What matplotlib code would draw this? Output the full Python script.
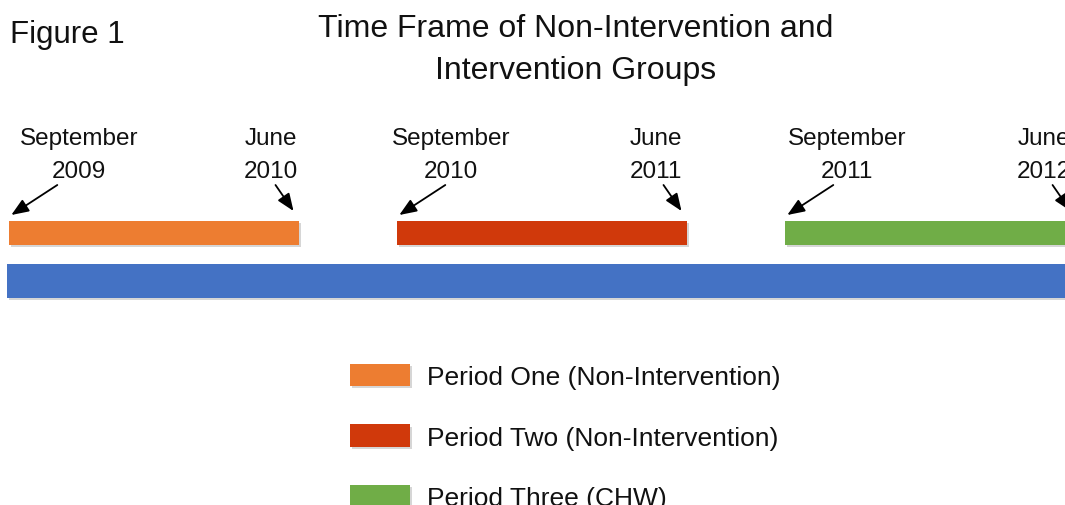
import matplotlib
matplotlib.use('Agg')
import matplotlib.pyplot as plt
import matplotlib.dates as mdates
import matplotlib.patheffects as pe

plt.rcParams['font.family'] = ['Liberation Sans', 'DejaVu Sans']

# data
periods = ['Period One (Non-Intervention)', 'Period Two (Non-Intervention)', 'Period Three (CHW)']
start_dates = ['2009-09-01', '2010-09-01', '2011-09-01']
end_dates = ['2010-06-01', '2011-06-01', '2012-06-01']
start_months = ['September', 'September', 'September']
start_years = ['2009', '2010', '2011']
end_months = ['June', 'June', 'June']
end_years = ['2010', '2011', '2012']
overall_start = '2009-08-30'
overall_end = '2012-07-01'

colors = ['#ED7D31', '#D0390B', '#70AD47']
blue = '#4472C4'
txt = '#111111'

# layout (y in pixel rows from the top)
W, H = 1065, 506
period_y, period_h = 234, 24
total_y, total_h = 282, 34
start_dx = [70, 54, 62]
end_dx = [-29, -32, -33]

fig = plt.figure(figsize=(W / 100, H / 100), dpi=100)
ax = fig.add_axes([0, 0, 1, 1])
ax.axis('off')

d0 = mdates.datestr2num(start_dates[0])
px_day = 1.063
left = d0 - 9.3 / px_day
ax.set_xlim(left, left + W / px_day)
ax.set_ylim(H, 0)

shadow = [pe.SimplePatchShadow(offset=(1.2, -1.5), shadow_rgbFace='#999999', alpha=0.4), pe.Normal()]

s_num = mdates.datestr2num(start_dates)
e_num = mdates.datestr2num(end_dates)
for i in range(3):
    ax.barh(period_y, e_num[i] - s_num[i], left=s_num[i], height=period_h,
            color=colors[i], label=periods[i], path_effects=shadow)

o0 = mdates.datestr2num(overall_start)
o1 = mdates.datestr2num(overall_end)
ax.barh(total_y, o1 - o0, left=o0, height=total_h, color=blue, path_effects=shadow)

arrow = dict(arrowstyle='-|>,head_length=0.75,head_width=0.3', color='black', lw=1.3,
             shrinkA=0, shrinkB=0, mutation_scale=14)
lab = dict(textcoords='offset pixels', ha='center', va='baseline', fontsize=17.5,
           color=txt, annotation_clip=False)
for i in range(3):
    ax.annotate(start_months[i], xy=(s_num[i], 145), xytext=(start_dx[i], 0), **lab)
    ax.annotate(start_years[i], xy=(s_num[i], 178), xytext=(start_dx[i], 0), **lab)
    ax.annotate(end_months[i], xy=(e_num[i], 145), xytext=(end_dx[i], 0), **lab)
    ax.annotate(end_years[i], xy=(e_num[i], 178), xytext=(end_dx[i], 0), **lab)
    ax.annotate('', xy=(s_num[i] + 2 / px_day, 216), xytext=(46, 30),
                textcoords='offset pixels', arrowprops=arrow, annotation_clip=False)
    ax.annotate('', xy=(e_num[i] - 6 / px_day, 212), xytext=(-18, 26),
                textcoords='offset pixels', arrowprops=arrow, annotation_clip=False)

fig.text(10 / W, 1 - 43 / H, 'Figure 1', fontsize=22.5, ha='left', va='baseline', color=txt)
fig.text(576 / W, 1 - 37 / H, 'Time Frame of Non-Intervention and', fontsize=23,
         ha='center', va='baseline', color=txt)
fig.text(576 / W, 1 - 79 / H, 'Intervention Groups', fontsize=23,
         ha='center', va='baseline', color=txt)

ax.legend(loc='upper left', bbox_to_anchor=(350 / W, 1 - 365 / H), frameon=False,
          fontsize=19, handlelength=2.27, handleheight=0.91, handletextpad=0.64,
          labelspacing=1.34, borderpad=0, borderaxespad=0, labelcolor=txt)

fig.savefig('out.png', dpi=100)
